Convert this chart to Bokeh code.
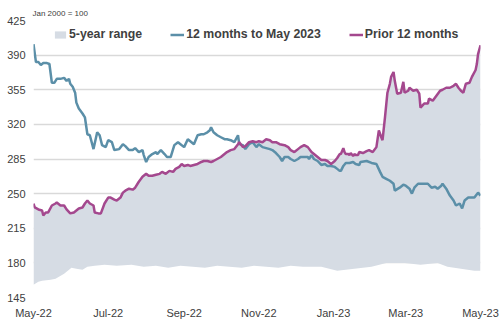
import datetime as dt
from bokeh.plotting import figure
from bokeh.models import (Legend, LegendItem, FixedTicker, DatetimeTickFormatter,
                          Title, Range1d)
from bokeh.embed import file_html
from bokeh.resources import INLINE

start = dt.datetime(2022, 5, 1)

# 12 months to May 2023 (days since 1 May 2022, index value)
recent_days = [0, 2, 4, 6, 8, 11, 13, 15, 17, 19, 22, 25, 27, 29, 30, 32, 34, 35, 37, 40,
               42, 44, 46, 49, 52, 54, 56, 59, 61, 64, 66, 70, 73, 75, 78, 81, 83, 86, 89, 90,
               92, 94, 97, 100, 101, 104, 107, 109, 112, 115, 118, 120, 123, 126, 128, 131, 134, 137, 139, 142,
               144, 145, 147, 150, 153, 156, 158, 161, 164, 167, 168, 171, 173, 176, 179, 182, 184, 187, 190, 193,
               195, 198, 201, 203, 205, 208, 210, 213, 216, 218, 221, 224, 225, 227, 229, 232, 235, 238, 240, 243,
               246, 248, 250, 251, 253, 255, 258, 261, 263, 266, 267, 272, 276, 280, 283, 285, 288, 291, 294, 295,
               299, 302, 304, 307, 309, 311, 314, 317, 319, 322, 325, 328, 330, 333, 334, 337, 340, 343, 345, 348,
               350, 352, 355, 358, 360, 363, 365]
recent_vals = [401, 383, 383, 380, 382, 382, 381, 362, 362, 366, 366, 367, 364, 366, 361, 358, 352, 342, 336, 331,
               327, 310, 309, 295, 312, 309, 299, 297, 304, 302, 294, 295, 300, 298, 294, 294, 296, 292, 294, 289,
               282, 287, 290, 292, 290, 294, 290, 287, 287, 299, 302, 300, 297, 305, 303, 300, 309, 310, 310, 312,
               314, 317, 312, 309, 307, 305, 305, 304, 302, 309, 300, 299, 295, 300, 302, 297, 300, 297, 296, 295,
               294, 291, 287, 283, 287, 287, 285, 283, 285, 287, 287, 287, 285, 289, 285, 283, 279, 280, 278, 278,
               277, 275, 273, 273, 278, 281, 281, 282, 280, 279, 282, 283, 281, 280, 272, 267, 265, 263, 260, 253,
               256, 259, 258, 255, 250, 256, 260, 260, 260, 260, 256, 257, 255, 258, 260, 255, 248, 243, 238, 240,
               235, 243, 246, 246, 246, 251, 248]

# Prior 12 months
prior_days = [0, 1, 4, 7, 8, 10, 12, 15, 18, 19, 22, 25, 27, 30, 33, 37, 40, 42, 44, 46,
              49, 50, 53, 55, 58, 61, 63, 66, 68, 71, 73, 75, 78, 81, 83, 86, 89, 92, 94, 97,
              100, 103, 105, 108, 111, 114, 116, 119, 121, 123, 126, 128, 131, 134, 137, 139, 142, 145, 147, 150,
              153, 156, 158, 161, 164, 167, 168, 171, 173, 176, 179, 182, 184, 187, 190, 193, 195, 198, 201, 205,
              208, 210, 213, 216, 218, 221, 224, 227, 229, 232, 235, 238, 240, 243, 246, 248, 250, 251, 253, 254,
              255, 257, 258, 259, 261, 262, 263, 265, 266, 269, 272, 274, 277, 280, 282, 284, 285, 287, 289, 291,
              292, 294, 295, 297, 300, 302, 303, 306, 307, 310, 313, 315, 316, 319, 322, 323, 326, 329, 332, 334,
              337, 340, 343, 345, 347, 349, 351, 353, 356, 358, 361, 362, 363, 365]
prior_vals = [240, 236, 234, 233, 228, 231, 231, 238, 240, 241, 238, 238, 234, 230, 231, 235, 236, 240, 243, 240,
              238, 231, 230, 230, 240, 246, 246, 244, 243, 246, 251, 253, 255, 254, 256, 262, 267, 270, 268, 268,
              269, 270, 272, 270, 273, 272, 275, 277, 280, 278, 279, 278, 279, 280, 282, 283, 283, 282, 283, 285,
              287, 290, 292, 294, 295, 300, 302, 297, 298, 302, 303, 302, 303, 302, 305, 304, 302, 302, 300, 299,
              297, 294, 292, 295, 297, 299, 297, 292, 290, 287, 284, 284, 283, 280, 283, 286, 290, 290, 296, 292,
              290, 290, 289, 291, 288, 290, 289, 289, 292, 291, 293, 294, 292, 297, 314, 307, 304, 327, 352, 361,
              368, 373, 364, 351, 352, 363, 352, 354, 357, 354, 355, 351, 337, 341, 341, 346, 344, 349, 354, 355,
              357, 357, 359, 361, 357, 354, 352, 361, 362, 368, 375, 381, 391, 400]

# Lower edge of the 5-year range (upper edge follows the prior 12 months)
low_days = [0, 4, 7, 14, 18, 25, 31, 35, 40, 44, 50, 58, 68, 80, 90, 100, 110, 120, 130, 140,
            150, 160, 170, 180, 190, 200, 210, 220, 235, 248, 262, 276, 288, 294, 303, 316, 330, 338, 349, 360, 365]
low_vals = [158, 161, 162, 163, 164, 169, 175, 174, 173, 176, 177, 178, 177, 178, 176, 177, 175, 177, 176, 175,
            177, 176, 175, 177, 176, 175, 177, 176, 176, 172, 174, 176, 180, 180, 180, 178, 180, 176, 174, 172, 172]

y_ticks = [145, 180, 215, 250, 285, 320, 355, 390, 425]
x_tick_dates = ["2022-05-01", "2022-07-01", "2022-09-01", "2022-11-01",
                "2023-01-01", "2023-03-01", "2023-05-01"]


def to_dates(days):
    return [start + dt.timedelta(days=d) for d in days]


recent_x = to_dates(recent_days)
prior_x = to_dates(prior_days)
low_x = to_dates(low_days)

BLUE = "#5B8FA8"
PURPLE = "#A4488E"
AREA = "#D6DCE4"
FONT = "Liberation Sans"

p = figure(width=500, height=326, x_axis_type="datetime", output_backend="svg",
           toolbar_location=None, title=None,
           x_range=Range1d(start, start + dt.timedelta(days=365)),
           y_range=Range1d(145, 425),
           min_border_left=33, min_border_right=20, min_border_top=20, min_border_bottom=29)
p.outline_line_color = None
p.background_fill_color = "white"

area = p.patch(x=prior_x + low_x[::-1], y=prior_vals + low_vals[::-1],
               fill_color=AREA, line_color=None)
r_recent = p.line(recent_x, recent_vals, line_color=BLUE, line_width=2.5)
r_prior = p.line(prior_x, prior_vals, line_color=PURPLE, line_width=2.5)

# axes
p.xaxis.ticker = FixedTicker(ticks=[dt.datetime.fromisoformat(d).timestamp() * 1000 for d in x_tick_dates])
p.xaxis.formatter = DatetimeTickFormatter(days="%b-%y", months="%b-%y", years="%b-%y")
p.yaxis.ticker = FixedTicker(ticks=y_ticks)
for ax in (p.xaxis[0], p.yaxis[0]):
    ax.axis_line_color = None
    ax.major_tick_line_color = None
    ax.minor_tick_line_color = None
    ax.major_tick_out = 0
    ax.major_tick_in = 0
    ax.major_label_text_font = FONT
    ax.major_label_text_font_size = "11px"
    ax.major_label_text_color = "#404040"
p.yaxis.major_label_standoff = 8
p.xaxis.major_label_standoff = 9
p.xgrid.grid_line_color = None
p.ygrid.grid_line_color = "#D9D9D9"
p.ygrid.grid_line_width = 1.5
p.ygrid.ticker = FixedTicker(ticks=y_ticks)

legend = Legend(items=[LegendItem(label="5-year range", renderers=[area]),
                       LegendItem(label="12 months to May 2023", renderers=[r_recent]),
                       LegendItem(label="Prior 12 months", renderers=[r_prior])],
                orientation="horizontal", location=(20, 256),
                label_text_font=FONT, label_text_font_size="12.3px", label_text_font_style="bold",
                label_text_color="#404040", glyph_width=14, glyph_height=9, label_standoff=2,
                spacing=28, padding=0, margin=0, background_fill_alpha=0, border_line_color=None,
                label_height=14)
p.add_layout(legend)

p.add_layout(Title(text="Jan 2000 = 100", align="left", offset=-1, standoff=2,
                   vertical_align="top",
                   text_font=FONT, text_font_size="8px", text_font_style="normal",
                   text_color="#404040"), "above")

open("out.html", "w").write(file_html(p, INLINE))
